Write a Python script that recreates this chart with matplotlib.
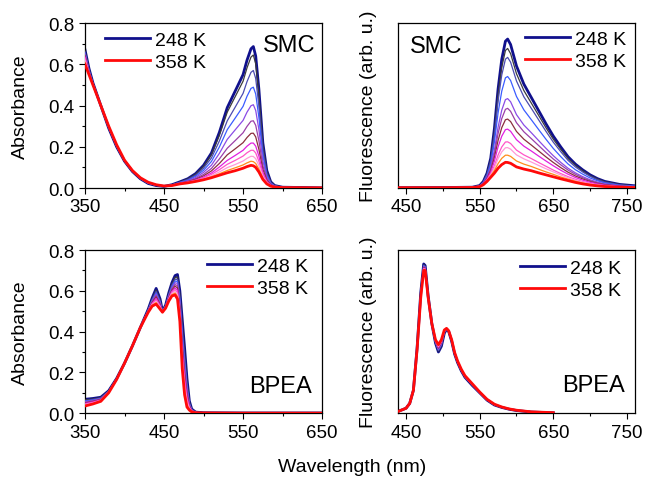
"""
Temperature-dependent absorbance / fluorescence spectra of SMC and BPEA
"""
import matplotlib
matplotlib.use("Agg")
import matplotlib.pyplot as plt
from matplotlib.ticker import MultipleLocator

plt.rcParams['font.family'] = ['Liberation Sans', 'DejaVu Sans']

# ---- data ----
temps_K = [248, 258, 268, 278, 288, 298, 308, 318, 328, 338, 348, 358]

smc_abs_nm = [350, 355, 360, 370, 380, 390, 400, 410, 420, 430, 440, 450,
              460, 470, 480, 490, 500, 510, 520, 530, 540, 550, 555, 560,
              563, 566, 570, 575, 580, 585, 590, 600, 650]
smc_abs = [
    [.670, .580, .510, .400, .290, .200, .130, .080, .045, .022, .012, .008,
     .016, .030, .045, .070, .110, .170, .270, .390, .470, .550, .620, .675,
     .686, .640, .480, .220, .085, .030, .012, .004, .001],
    [.665, .577, .509, .400, .291, .201, .131, .081, .046, .023, .013, .008,
     .016, .029, .044, .067, .105, .161, .255, .368, .443, .518, .583, .635,
     .645, .602, .451, .207, .080, .029, .012, .004, .001],
    [.660, .574, .508, .400, .292, .202, .131, .081, .046, .023, .013, .008,
     .015, .028, .041, .062, .096, .146, .228, .326, .392, .459, .516, .561,
     .570, .531, .399, .184, .072, .026, .011, .004, .001],
    [.655, .571, .507, .400, .293, .203, .132, .082, .047, .024, .013, .009,
     .015, .027, .038, .057, .086, .129, .199, .283, .339, .396, .445, .483,
     .489, .456, .343, .159, .063, .023, .010, .003, .001],
    [.650, .568, .506, .400, .294, .204, .132, .082, .047, .024, .014, .009,
     .014, .025, .035, .051, .076, .111, .168, .236, .282, .328, .368, .399,
     .404, .376, .284, .133, .053, .020, .009, .003, .001],
    [.645, .565, .505, .400, .295, .205, .133, .083, .048, .025, .014, .009,
     .014, .024, .033, .046, .066, .095, .141, .193, .230, .268, .299, .324,
     .326, .304, .230, .109, .045, .017, .008, .003, .001],
    [.640, .562, .504, .400, .296, .206, .133, .083, .048, .025, .014, .009,
     .013, .023, .030, .042, .059, .083, .119, .161, .190, .220, .245, .265,
     .266, .248, .188, .091, .038, .015, .007, .003, .001],
    [.635, .559, .503, .400, .297, .207, .134, .084, .049, .026, .015, .009,
     .013, .022, .029, .039, .053, .073, .102, .134, .158, .183, .203, .218,
     .218, .203, .155, .076, .032, .013, .006, .002, .001],
    [.630, .556, .502, .400, .298, .208, .134, .084, .049, .026, .015, .010,
     .013, .021, .028, .037, .049, .066, .089, .115, .134, .155, .171, .183,
     .183, .170, .130, .065, .028, .012, .006, .002, .001],
    [.620, .553, .501, .400, .299, .209, .135, .085, .050, .027, .016, .010,
     .012, .021, .027, .035, .045, .059, .078, .099, .114, .131, .144, .154,
     .153, .142, .109, .056, .025, .011, .006, .002, .001],
    [.610, .551, .500, .400, .300, .210, .135, .085, .050, .028, .016, .010,
     .012, .020, .026, .033, .042, .054, .069, .085, .098, .112, .122, .130,
     .128, .119, .092, .048, .022, .010, .005, .002, .001],
    [.600, .550, .500, .400, .300, .210, .135, .085, .050, .028, .016, .010,
     .012, .020, .025, .032, .040, .050, .062, .074, .084, .096, .104, .110,
     .108, .100, .078, .042, .020, .009, .005, .002, .001],
]

smc_fl_nm = [440, 500, 540, 550, 555, 560, 565, 570, 575, 580, 585, 588, 592,
             600, 610, 620, 630, 640, 650, 660, 670, 680, 690, 700, 710, 720,
             740, 760]
smc_fl = [
    [.002, .003, .005, .015, .040, .090, .180, .360, .600, .780, .890, .903, .870,
     .740, .630, .550, .470, .390, .315, .250, .190, .145, .110, .080, .057, .040,
     .022, .014],
    [.002, .003, .005, .014, .038, .086, .171, .339, .564, .732, .834, .846, .815,
     .693, .591, .516, .441, .366, .296, .235, .179, .137, .104, .075, .054, .038,
     .021, .013],
    [.002, .003, .005, .014, .037, .083, .163, .320, .528, .685, .781, .792, .763,
     .649, .553, .484, .414, .344, .278, .221, .168, .128, .097, .071, .050, .035,
     .019, .012],
    [.002, .003, .004, .013, .034, .075, .145, .278, .455, .587, .668, .676, .652,
     .555, .474, .415, .355, .296, .240, .191, .146, .111, .084, .061, .044, .031,
     .017, .011],
    [.002, .003, .004, .012, .030, .066, .125, .230, .369, .472, .536, .542, .523,
     .445, .382, .336, .288, .241, .196, .156, .120, .092, .069, .050, .036, .025,
     .014, .009],
    [.002, .002, .004, .011, .029, .062, .115, .208, .330, .421, .477, .483, .465,
     .396, .341, .300, .258, .216, .176, .141, .109, .083, .062, .045, .032, .023,
     .012, .008],
    [.002, .002, .004, .010, .027, .058, .105, .185, .288, .366, .414, .418, .403,
     .343, .296, .261, .225, .189, .155, .124, .096, .073, .055, .040, .028, .020,
     .011, .007],
    [.002, .002, .004, .010, .025, .054, .096, .163, .250, .314, .354, .357, .344,
     .293, .254, .225, .194, .164, .135, .108, .084, .064, .048, .035, .025, .017,
     .010, .006],
    [.002, .002, .003, .009, .023, .048, .084, .135, .200, .249, .279, .280, .270,
     .230, .201, .179, .155, .132, .109, .088, .069, .053, .039, .028, .020, .014,
     .008, .005],
    [.002, .002, .003, .009, .022, .046, .079, .122, .178, .219, .244, .245, .236,
     .201, .177, .158, .137, .117, .098, .079, .062, .047, .035, .025, .018, .013,
     .007, .004],
    [.002, .002, .003, .008, .021, .043, .072, .106, .148, .180, .199, .199, .192,
     .164, .145, .131, .114, .098, .083, .067, .054, .041, .030, .022, .016, .011,
     .006, .004],
    [.002, .002, .003, .008, .020, .040, .065, .090, .120, .142, .156, .155, .150,
     .128, .115, .105, .092, .080, .068, .056, .045, .034, .025, .018, .013, .009,
     .005, .003],
]

bpea_abs_nm = [350, 360, 370, 380, 390, 400, 410, 420, 430, 435, 440, 445, 448,
               452, 456, 460, 464, 467, 470, 473, 476, 479, 482, 485, 490, 500,
               550, 650]
bpea_abs = [
    [.068, .072, .078, .110, .170, .245, .330, .420, .510, .565, .612, .560, .500,
     .530, .590, .640, .675, .680, .600, .460, .320, .170, .060, .020, .005, .002,
     .001, .001],
    [.065, .069, .076, .109, .170, .245, .330, .420, .509, .561, .604, .555, .500,
     .529, .586, .634, .666, .668, .585, .436, .297, .156, .056, .019, .005, .002,
     .001, .001],
    [.061, .067, .074, .108, .169, .245, .330, .420, .507, .557, .597, .550, .499,
     .527, .582, .627, .656, .656, .570, .412, .274, .142, .051, .017, .004, .002,
     .001, .001],
    [.059, .064, .072, .107, .169, .245, .330, .420, .506, .554, .590, .546, .499,
     .526, .579, .622, .648, .646, .558, .393, .256, .131, .047, .016, .004, .002,
     .001, .001],
    [.056, .062, .071, .106, .168, .245, .330, .420, .504, .550, .584, .542, .498,
     .524, .575, .616, .640, .636, .545, .371, .235, .118, .043, .015, .004, .002,
     .001, .001],
    [.053, .060, .069, .105, .168, .245, .330, .420, .503, .547, .577, .537, .498,
     .523, .572, .610, .631, .625, .531, .350, .214, .106, .039, .014, .004, .002,
     .001, .001],
    [.050, .057, .067, .105, .167, .245, .330, .420, .502, .543, .570, .533, .497,
     .522, .568, .604, .623, .614, .518, .328, .194, .093, .035, .012, .003, .001,
     .000, .000],
    [.047, .055, .065, .104, .167, .245, .330, .420, .500, .539, .563, .528, .497,
     .520, .564, .598, .614, .603, .504, .306, .173, .080, .031, .011, .003, .001,
     .000, .000],
    [.044, .052, .063, .103, .166, .245, .330, .420, .499, .536, .556, .524, .496,
     .519, .561, .593, .606, .592, .491, .285, .152, .068, .027, .010, .003, .001,
     .000, .000],
    [.041, .050, .062, .102, .166, .245, .330, .420, .498, .532, .549, .519, .496,
     .518, .557, .587, .597, .582, .477, .263, .131, .055, .023, .009, .003, .001,
     .000, .000],
    [.038, .047, .060, .101, .165, .245, .330, .420, .496, .529, .542, .515, .495,
     .516, .554, .581, .589, .571, .464, .242, .111, .043, .019, .007, .002, .001,
     .000, .000],
    [.035, .045, .058, .100, .165, .245, .330, .420, .495, .525, .535, .510, .495,
     .515, .550, .575, .580, .560, .450, .220, .090, .030, .015, .006, .002, .001,
     .000, .000],
]

bpea_fl_nm = [440, 450, 455, 460, 465, 470, 474, 476, 480, 485, 490, 494, 498,
              502, 505, 508, 512, 516, 520, 525, 530, 540, 550, 560, 570, 580,
              590, 600, 620, 650]
bpea_fl = [
    [.012, .030, .060, .140, .400, .740, .915, .905, .720, .550, .430, .375, .410,
     .490, .515, .500, .440, .362, .310, .260, .220, .170, .125, .080, .050, .035,
     .024, .016, .007, .002],
    [.012, .030, .060, .140, .399, .737, .911, .902, .719, .550, .432, .380, .414,
     .492, .516, .501, .441, .363, .311, .261, .221, .171, .126, .081, .051, .035,
     .024, .016, .007, .002],
    [.012, .030, .060, .140, .398, .734, .907, .899, .718, .550, .434, .384, .418,
     .494, .517, .502, .442, .364, .312, .262, .222, .172, .126, .081, .051, .036,
     .025, .017, .007, .002],
    [.012, .030, .060, .140, .397, .732, .904, .897, .717, .550, .436, .388, .421,
     .496, .517, .502, .443, .365, .313, .263, .223, .173, .127, .082, .052, .036,
     .025, .017, .008, .002],
    [.012, .030, .060, .140, .396, .729, .900, .894, .716, .550, .437, .392, .425,
     .497, .518, .503, .444, .366, .314, .264, .224, .174, .127, .082, .052, .036,
     .025, .017, .008, .002],
    [.012, .030, .060, .140, .395, .726, .897, .891, .715, .550, .439, .396, .428,
     .499, .518, .503, .445, .367, .315, .265, .225, .175, .128, .083, .053, .037,
     .025, .017, .008, .003],
    [.012, .030, .060, .140, .395, .724, .893, .889, .715, .550, .441, .400, .432,
     .501, .518, .503, .445, .367, .315, .265, .225, .175, .128, .083, .053, .037,
     .025, .017, .008, .003],
    [.012, .030, .060, .140, .394, .721, .889, .886, .714, .550, .443, .404, .436,
     .503, .519, .503, .446, .368, .316, .266, .226, .176, .128, .083, .053, .037,
     .025, .017, .008, .003],
    [.012, .030, .060, .140, .393, .718, .886, .883, .713, .550, .445, .408, .439,
     .505, .519, .504, .447, .369, .317, .267, .227, .177, .129, .084, .054, .037,
     .026, .018, .008, .003],
    [.012, .030, .060, .140, .392, .715, .882, .880, .712, .550, .446, .412, .443,
     .506, .520, .504, .448, .370, .318, .268, .228, .178, .129, .084, .054, .038,
     .026, .018, .008, .003],
    [.012, .030, .060, .140, .391, .713, .879, .878, .711, .550, .448, .416, .446,
     .508, .520, .505, .449, .371, .319, .269, .229, .179, .130, .085, .055, .038,
     .026, .018, .008, .003],
    [.012, .030, .060, .140, .390, .710, .875, .875, .710, .550, .450, .420, .450,
     .510, .520, .505, .450, .372, .320, .270, .230, .180, .130, .085, .055, .038,
     .026, .018, .008, .003],
]

# one colour per temperature, cold (navy) -> hot (red)
curve_colors = ['#10108c', '#3c3c3c', '#4b4bb0', '#3a5cff', '#8a4be6', '#9b3fa8',
                '#8b2e3e', '#e020e0', '#ff55c8', '#ff9ad8', '#ff8c1a', '#ff0a0a']

TICK_FS = 13.5
LABEL_FS = 14
NAME_FS = 17


def draw_panel(ax, nm, rows, name, name_xy, name_ha, legend_xy):
    lines = []
    for i, row in enumerate(rows):
        thick = i == 0 or i == len(rows) - 1
        ln, = ax.plot(nm, row, color=curve_colors[i], lw=2.0 if thick else 0.9,
                      zorder=2 + i)
        lines.append(ln)
    ax.legend([lines[0], lines[-1]], [f"{temps_K[0]} K", f"{temps_K[-1]} K"],
              loc='upper left', bbox_to_anchor=legend_xy, frameon=False,
              fontsize=LABEL_FS, handlelength=2.3, handletextpad=0.25,
              labelspacing=0.22, borderpad=0, borderaxespad=0)
    ax.text(name_xy[0], name_xy[1], name, transform=ax.transAxes,
            fontsize=NAME_FS, ha=name_ha, va='center')
    ax.tick_params(which='both', direction='out', labelsize=TICK_FS,
                   top=False, right=False)
    ax.tick_params(which='major', length=4, width=0.8)
    ax.tick_params(which='minor', length=2.5, width=0.8)
    for sp in ax.spines.values():
        sp.set_linewidth(0.9)


def abs_axes(ax):
    ax.set_xlim(350, 650)
    ax.set_ylim(0, 0.8)
    ax.set_xticks([350, 450, 550, 650])
    ax.xaxis.set_minor_locator(MultipleLocator(50))
    ax.set_yticks([0.0, 0.2, 0.4, 0.6, 0.8])
    ax.yaxis.set_minor_locator(MultipleLocator(0.1))
    ax.set_ylabel('Absorbance', fontsize=LABEL_FS)
    ax.yaxis.set_label_coords(-0.235, 0.5)


def fl_axes(ax):
    ax.set_xlim(439, 761)
    ax.set_ylim(0, 1)
    ax.set_xticks([450, 550, 650, 750])
    ax.xaxis.set_minor_locator(MultipleLocator(50))
    ax.set_yticks([])
    ax.set_ylabel('Fluorescence (arb. u.)', fontsize=LABEL_FS)
    ax.yaxis.set_label_coords(-0.09, 0.5)


fig = plt.figure(figsize=(6.46, 4.81), dpi=100)
ax_tl = fig.add_axes([0.1316, 0.607, 0.367, 0.343])
ax_tr = fig.add_axes([0.616, 0.607, 0.367, 0.343])
ax_bl = fig.add_axes([0.1316, 0.139, 0.367, 0.339])
ax_br = fig.add_axes([0.616, 0.139, 0.367, 0.339])

draw_panel(ax_tl, smc_abs_nm, smc_abs, 'SMC', (0.97, 0.865), 'right', (0.084, 0.95))
abs_axes(ax_tl)

draw_panel(ax_tr, smc_fl_nm, smc_fl, 'SMC', (0.05, 0.86), 'left', (0.536, 0.955))
fl_axes(ax_tr)

draw_panel(ax_bl, bpea_abs_nm, bpea_abs, 'BPEA', (0.958, 0.166), 'right', (0.515, 0.955))
abs_axes(ax_bl)

draw_panel(ax_br, bpea_fl_nm, bpea_fl, 'BPEA', (0.958, 0.172), 'right', (0.515, 0.945))
fl_axes(ax_br)

fig.text(352 / 646, 1 - 468 / 481, 'Wavelength (nm)', fontsize=LABEL_FS,
         ha='center', va='center')

fig.savefig('out.png', dpi=100)
plt.close(fig)
